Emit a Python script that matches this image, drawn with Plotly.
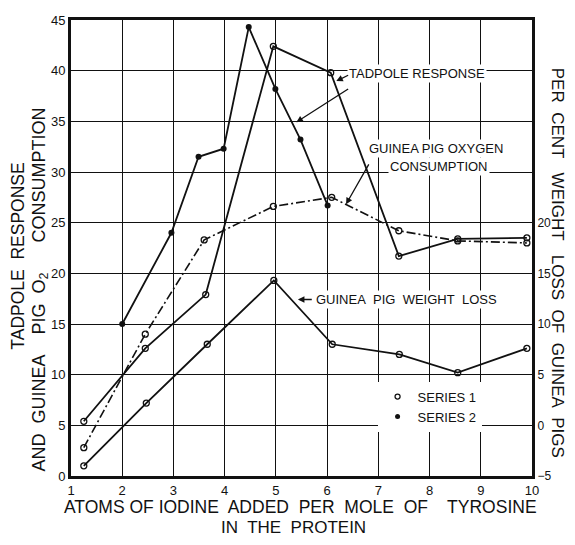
import plotly.graph_objects as go

# ---- data ----
tad1_x = [1.25, 2.45, 3.63, 4.95, 6.07, 7.4, 8.55, 9.9]
tad1_y = [5.4, 12.6, 17.9, 42.4, 39.8, 21.7, 23.4, 23.5]

tad2_x = [2.0, 2.96, 3.49, 3.98, 4.47, 4.99, 5.48, 6.01]
tad2_y = [15.0, 24.0, 31.5, 32.3, 44.3, 38.2, 33.2, 26.7]

oxy_x = [1.25, 2.45, 3.6, 4.95, 6.09, 7.4, 8.55, 9.9]
oxy_y = [2.8, 14.0, 23.3, 26.6, 27.5, 24.2, 23.2, 23.0]

wl_x = [1.25, 2.47, 3.66, 4.96, 6.1, 7.41, 8.55, 9.9]
wl_y = [-4.0, 2.2, 8.0, 14.3, 8.0, 7.0, 5.2, 7.6]

x_ticks = [1, 2, 3, 4, 5, 6, 7, 8, 9, 10]
left_ticks = [0, 5, 10, 15, 20, 25, 30, 35, 40, 45]
right_ticks = [-5, 0, 5, 10, 15, 20]

FONT = "Liberation Sans, Arial, sans-serif"
BLACK = "#111111"
S = "&nbsp;"

open_marker = dict(symbol="circle-open", size=6, color=BLACK, line=dict(width=1.3, color=BLACK))
fill_marker = dict(symbol="circle", size=6, color=BLACK)

fig = go.Figure()
fig.add_trace(go.Scatter(x=tad1_x, y=tad1_y, mode="lines+markers",
                         line=dict(color=BLACK, width=1.8), marker=open_marker, showlegend=False))
fig.add_trace(go.Scatter(x=tad2_x, y=tad2_y, mode="lines+markers",
                         line=dict(color=BLACK, width=1.8), marker=fill_marker, showlegend=False))
fig.add_trace(go.Scatter(x=oxy_x, y=oxy_y, mode="lines+markers",
                         line=dict(color=BLACK, width=1.6, dash="9px,3px,2px,3px"),
                         marker=open_marker, showlegend=False))
fig.add_trace(go.Scatter(x=wl_x, y=wl_y, mode="lines+markers", yaxis="y2",
                         line=dict(color=BLACK, width=1.8), marker=open_marker, showlegend=False))
# legend entries
fig.add_trace(go.Scatter(x=[None], y=[None], mode="markers", name="SERIES 1",
                         marker=dict(symbol="circle-open", size=5, color=BLACK, line=dict(width=1.3))))
fig.add_trace(go.Scatter(x=[None], y=[None], mode="markers", name="SERIES 2",
                         marker=dict(symbol="circle", size=5, color=BLACK)))

ann_font = dict(family=FONT, size=13, color=BLACK)
title_font = dict(family=FONT, size=17.5, color=BLACK)


def arrow(hx, hy, tx, ty):
    return dict(x=hx, y=hy, ax=tx, ay=ty, xref="x", yref="y", axref="x", ayref="y",
                text="", showarrow=True, arrowhead=2, arrowsize=1, arrowwidth=1.3,
                arrowcolor=BLACK)


def label(x, y, text, font=ann_font, **kw):
    d = dict(x=x, y=y, text=text, showarrow=False, font=font,
             xanchor="center", yanchor="middle")
    d.update(kw)
    return d


annotations = [
    label(7.76, 39.75, "TADPOLE RESPONSE", xref="x", yref="y", bgcolor="white"),
    arrow(6.18, 38.97, 6.44, 39.62),
    arrow(5.40, 34.92, 6.44, 38.29),
    label(8.13, 32.36, "GUINEA PIG OXYGEN", xref="x", yref="y", bgcolor="white"),
    label(8.19, 30.5, "CONSUMPTION", xref="x", yref="y", bgcolor="white"),
    arrow(6.37, 26.82, 6.83, 30.9),
    label(7.55, 17.42, "GUINEA" + S + " PIG" + S + " WEIGHT" + S + " LOSS", xref="x", yref="y",
          bgcolor="white"),
    arrow(5.43, 17.42, 5.73, 17.42),
    # axis titles
    label(0.498, -0.069,
          "ATOMS OF IODINE" + S + " ADDED" + S + " PER" + S + " MOLE" + S + " OF" + S * 3 + " TYROSINE",
          font=title_font, xref="paper", yref="paper"),
    label(0.483, -0.113, "IN" + S + " THE" + S + " PROTEIN", font=dict(family=FONT, size=17, color=BLACK),
          xref="paper", yref="paper"),
    label(-0.114, 0.482, "TADPOLE" + S + " RESPONSE", font=title_font, textangle=-90,
          xref="paper", yref="paper"),
    label(-0.066, 0.408,
          "AND" + S + " GUINEA" + S * 3 + " PIG" + S + " O<sub>2</sub>" + S * 5 + " CONSUMPTION",
          font=dict(family=FONT, size=18, color=BLACK), textangle=-90, xref="paper", yref="paper"),
    label(1.057, 0.467,
          "PER" + S + " CENT" + S * 2 + " WEIGHT" + S * 2 + " LOSS" + S + " OF" + S + " GUINEA" + S + " PIGS",
          font=dict(family=FONT, size=17, color=BLACK), textangle=90, xref="paper", yref="paper"),
]

# the page body has an 8px margin, so the figure is 16px smaller and shifted
fig.update_layout(
    width=559, height=529,
    margin=dict(l=63, r=35, t=5, b=61),
    paper_bgcolor="white", plot_bgcolor="white",
    font=dict(family=FONT, size=13, color=BLACK),
    xaxis=dict(range=[1, 10], tickvals=x_ticks, showgrid=True, gridcolor=BLACK, gridwidth=1,
               showline=True, linecolor=BLACK, linewidth=3, mirror=True, ticks="",
               zeroline=False, tickfont=dict(size=13)),
    yaxis=dict(range=[0, 45], tickvals=left_ticks, showgrid=True, gridcolor=BLACK, gridwidth=1,
               showline=True, linecolor=BLACK, linewidth=3, mirror=True, ticks="",
               zeroline=False, tickfont=dict(size=13)),
    yaxis2=dict(range=[-5, 40], tickvals=right_ticks, overlaying="y", side="right", showgrid=False,
                showline=True, linecolor=BLACK, linewidth=3, ticks="", zeroline=False,
                tickfont=dict(size=12)),
    legend=dict(x=0.665, y=0.207, xanchor="left", yanchor="top", bgcolor="white",
                font=dict(family=FONT, size=13, color=BLACK), itemwidth=30, tracegroupgap=0),
    annotations=annotations,
)

fig.write_html("out.html")
